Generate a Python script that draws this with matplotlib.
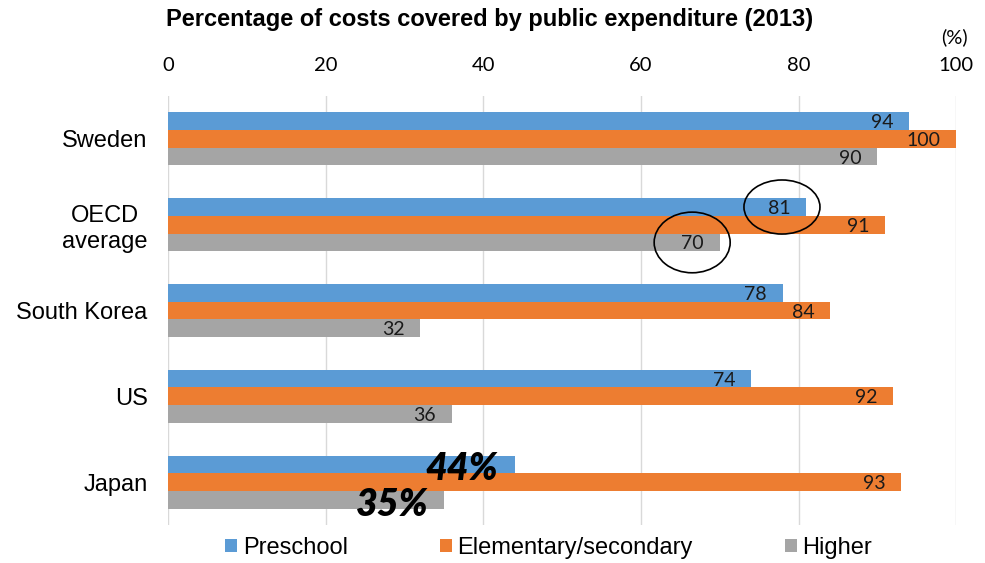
import numpy as np
import matplotlib
matplotlib.use("Agg")
import matplotlib.pyplot as plt
from matplotlib.patches import Ellipse

plt.rcParams['font.family'] = ['Liberation Sans', 'DejaVu Sans']

# data
countries = ['Sweden', 'OECD\naverage', 'South Korea', 'US', 'Japan']
preschool = [94, 81, 78, 74, 44]
elementary = [100, 91, 84, 92, 93]
higher = [90, 70, 32, 36, 35]
series_names = ['Preschool', 'Elementary/secondary', 'Higher']
colors = ['#5B9BD5', '#ED7D31', '#A5A5A5']

num_font = ['Lato', 'DejaVu Sans']

fig = plt.figure(figsize=(9.85, 5.63), dpi=100)
ax = fig.add_axes([0.1709, 0.0675, 0.7997, 0.762])

y = np.arange(len(countries))
h = 0.206
series = [preschool, elementary, higher]
offsets = [-h, 0, h]
for vals, off, col, name in zip(series, offsets, colors, series_names):
    ax.barh(y + off, vals, height=h, color=col, label=name, zorder=2)
    for yi, v in zip(y, vals):
        # Japan preschool/higher get the big labels instead
        if countries[yi] == 'Japan' and name != 'Elementary/secondary':
            continue
        ax.text(v - 2.0, yi + off + 0.082, str(v), ha='right', va='baseline',
                fontsize=14, family=num_font, color='#1a1a1a', zorder=3)

ax.set_xlim(0, 100)
ax.set_ylim(4.5, -0.5)
ax.set_xticks(np.arange(0, 101, 20))
ax.xaxis.tick_top()
ax.tick_params(axis='x', length=0, pad=16)
for lab in ax.get_xticklabels():
    lab.set_family(num_font)
    lab.set_fontsize(14.5)
ax.set_yticks(y)
ax.set_yticklabels(countries, fontsize=17, multialignment='center')
ax.tick_params(axis='y', length=0, pad=15)
ax.grid(axis='x', color='#D9D9D9', linewidth=1.0, zorder=0)
for s in ax.spines.values():
    s.set_visible(False)

# highlighted callouts
ax.add_patch(Ellipse((77.9, 0.794), 9.65, 0.63, fill=False, edgecolor='black',
                     linewidth=1.2, zorder=4, clip_on=False))
ax.add_patch(Ellipse((66.5, 1.207), 9.65, 0.707, fill=False, edgecolor='black',
                     linewidth=1.2, zorder=4, clip_on=False))
ax.text(37.25, 3.975, '44%', ha='center', va='baseline', fontsize=27,
        family=num_font, fontweight='heavy', fontstyle='italic', zorder=4)
ax.text(28.44, 4.395, '35%', ha='center', va='baseline', fontsize=27,
        family=num_font, fontweight='heavy', fontstyle='italic', zorder=4)

fig.text(0.4975, 0.966, 'Percentage of costs covered by public expenditure (2013)',
         ha='center', va='center', fontsize=17, fontweight='bold')
fig.text(0.9685, 0.934, '(%)', ha='center', va='center', fontsize=14.5, family=num_font)

ax.legend(loc='center', bbox_to_anchor=(0.557, 0.027), bbox_transform=fig.transFigure,
          ncol=3, frameon=False, fontsize=17, handlelength=0.5, handleheight=0.5,
          handletextpad=0.25, columnspacing=3.9, borderpad=0, borderaxespad=0)

fig.savefig('out.png', dpi=100)
